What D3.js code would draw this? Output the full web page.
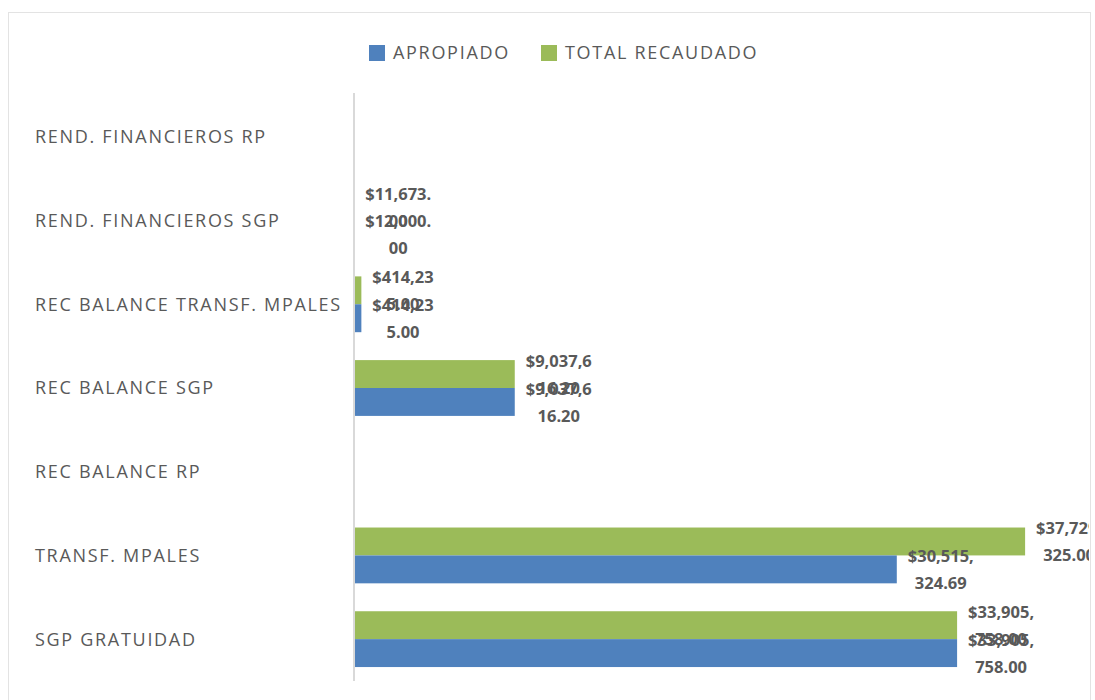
<!DOCTYPE html>
<html>
<head>
<meta charset="utf-8">
<script src="https://cdn.jsdelivr.net/npm/d3@7"></script>
<style>
  body { margin: 0; background: #fff; }
  text { font-family: "Open Sans", "DejaVu Sans", sans-serif; fill: #595959; }
</style>
</head>
<body>
<svg width="1095" height="700"></svg>
<script>
// rows listed top to bottom, as drawn
var categories = ["REND. FINANCIEROS RP", "REND. FINANCIEROS SGP", "REC BALANCE TRANSF. MPALES",
    "REC BALANCE SGP", "REC BALANCE RP", "TRANSF. MPALES", "SGP GRATUIDAD"];
var apropiado = [null, 12000, 414235, 9037616.20, null, 30515324.69, 33905758];
var recaudado = [null, 11673, 414235, 9037616.20, null, 37729325, 33905758];
var seriesNames = ["APROPIADO", "TOTAL RECAUDADO"];
var seriesColors = ["#4f81bd", "#9bbb59"];

var svg = d3.select("svg");

// chart frame
svg.append("rect")
    .attr("x", 8.5).attr("y", 12.5).attr("width", 1082).attr("height", 700)
    .attr("fill", "none").attr("stroke", "#e3e3e3");

svg.append("clipPath").attr("id", "clip")
    .append("rect").attr("x", 9).attr("y", 13).attr("width", 1080).attr("height", 690);

var y = d3.scaleBand().domain(categories).range([95, 681]);
var x = d3.scaleLinear().domain([0, 40000000]).range([354, 1065.5]);
var barH = y.bandwidth() / 3;

var fmt = function(v) { return "$" + d3.format(",.2f")(v); };

// category labels, left aligned
svg.append("g").selectAll("text").data(categories).enter().append("text")
    .attr("x", 35)
    .attr("y", function(d) { return y(d) + y.bandwidth() / 2; })
    .attr("dy", "0.36em")
    .attr("font-size", 18)
    .attr("letter-spacing", 1.7)
    .text(function(d) { return d; });

var rows = [];
categories.forEach(function(c, i) {
    // green on top, blue below
    rows.push({cat: c, s: 1, v: recaudado[i]});
    rows.push({cat: c, s: 0, v: apropiado[i]});
});
rows = rows.filter(function(r) { return r.v != null; });

function barTop(r) {
    return y(r.cat) + barH / 2 + (r.s == 1 ? 0 : barH);
}

svg.append("g").selectAll("rect").data(rows).enter().append("rect")
    .attr("x", x(0))
    .attr("y", barTop)
    .attr("width", function(r) { return Math.max(0.3, x(r.v) - x(0)); })
    .attr("height", barH)
    .attr("fill", function(r) { return seriesColors[r.s]; });

// axis line
svg.append("line")
    .attr("x1", x(0)).attr("x2", x(0)).attr("y1", 93).attr("y2", 681)
    .attr("stroke", "#d9d9d9").attr("stroke-width", 2);

// data labels, wrapped like excel does when they are too wide
var labels = svg.append("g").attr("clip-path", "url(#clip)")
    .attr("font-size", 16.5).attr("font-weight", "bold");

var probe = labels.append("text").text("$33,905,");
var maxW = probe.node().getComputedTextLength() + 1;

function wrap(s) {
    var lines = [], cur = "";
    for (var i = 0; i < s.length; i++) {
        probe.text(cur + s[i]);
        if (cur.length > 0 && probe.node().getComputedTextLength() > maxW) {
            lines.push(cur);
            cur = s[i];
        } else {
            cur += s[i];
        }
    }
    lines.push(cur);
    return lines;
}

rows.forEach(function(r) {
    var lines = wrap(fmt(r.v));
    var w = 0;
    lines.forEach(function(l) { probe.text(l); w = Math.max(w, probe.node().getComputedTextLength()); });
    var cx = x(r.v) + 11 + w / 2;
    var cy = barTop(r) + barH / 2;
    var t = labels.append("text").attr("text-anchor", "middle");
    lines.forEach(function(l, k) {
        t.append("tspan").attr("x", cx)
            .attr("y", cy - 13 + k * 27)
            .attr("dy", "0.36em")
            .text(l);
    });
});
probe.remove();

// legend
var legend = svg.append("g");
var lx = [369, 541];
seriesNames.forEach(function(n, i) {
    legend.append("rect").attr("x", lx[i]).attr("y", 45).attr("width", 16).attr("height", 16)
        .attr("fill", seriesColors[i]);
    legend.append("text").attr("x", lx[i] + 24).attr("y", 53).attr("dy", "0.36em")
        .attr("font-size", 18).attr("letter-spacing", 1.7).text(n);
});
</script>
</body>
</html>
